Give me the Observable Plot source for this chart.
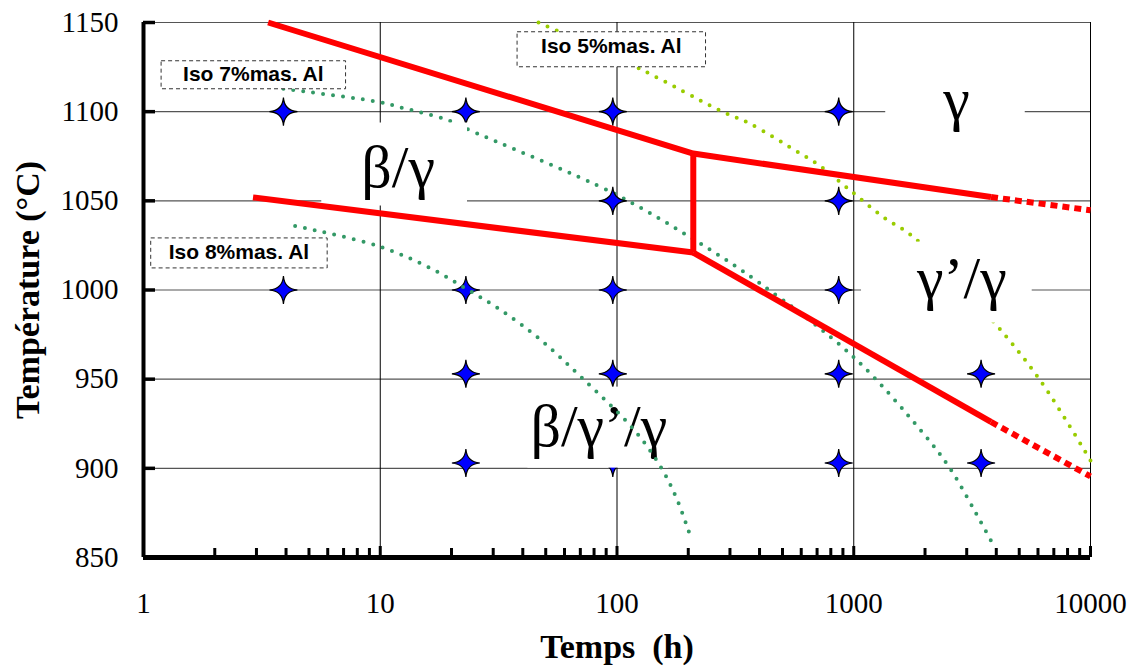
<!DOCTYPE html>
<html><head><meta charset="utf-8">
<script src="https://cdn.jsdelivr.net/npm/d3@7"></script>
<script src="https://cdn.jsdelivr.net/npm/@observablehq/plot@0.6"></script>
<style>
html,body{margin:0;padding:0;background:#fff;}
#chart svg{display:block;}
</style>
</head><body><div id="chart"></div>
<script>
// ---------- data ----------
const xTickValues = [1, 10, 100, 1000, 10000];
const xDecadeTicks = [10, 100, 1000, 10000];
const xMinorTicks = [2,3,4,5,6,7,8,9, 20,30,40,50,60,70,80,90, 200,300,400,500,600,700,800,900, 2000,3000,4000,5000,6000,7000,8000,9000];
const yTickValues = [850, 900, 950, 1000, 1050, 1100, 1150];
const yGridValues = [900, 950, 1000, 1050, 1100, 1150];

// experimental points (time h, temperature °C)
const starTime = [3.9, 3.9, 23, 23, 23, 23, 96, 96, 96, 96, 96, 864, 864, 864, 864, 864, 3450, 3450];
const starTemp = [1100, 1000, 1100, 1000, 953, 903, 1100, 1050, 1000, 953, 903, 1100, 1050, 1000, 953, 903, 953, 903];

// phase boundaries (red)
const upperTime = [3.36, 210, 3800];
const upperTemp = [1150, 1076.5, 1052.1];
const upperExtTime = [3800, 10000];
const upperExtTemp = [1052.1, 1044.7];
const middleTime = [2.9, 210];
const middleTemp = [1051.9, 1021.0];
const verticalTime = [210, 210];
const verticalTemp = [1076.5, 1021.0];
const lowerTime = [210, 3800];
const lowerTemp = [1021.0, 926.0];
const lowerExtTime = [3800, 10000];
const lowerExtTemp = [926.0, 895.5];

// iso-concentration curves (dotted)
const iso7Time = [3.9, 10, 12.1, 19.1, 24, 96.5, 210, 403, 1000, 1974, 2557, 3540, 3900];
const iso7Temp = [1112.8, 1105.3, 1102.5, 1095.5, 1089.5, 1054.3, 1028.5, 1003.6, 962.3, 919.3, 899.7, 866.9, 856.7];
const iso8Time = [4.37, 10, 16.8, 23.2, 32.1, 47.4, 72.3, 117.5, 152, 179, 207];
const iso8Temp = [1035.9, 1024.3, 1011.3, 1000.5, 989, 972.2, 949.8, 921.9, 901.4, 882.8, 859.5];
const iso5Time = [46.6, 125, 273, 365, 596, 700, 968, 1337, 1791, 3963, 6140, 10000];
const iso5Temp = [1150, 1124.0, 1100.6, 1093.2, 1076.4, 1070.8, 1055.8, 1040.8, 1029.6, 981.0, 949.2, 904.4];

// labels
const phaseLabels = ["β/γ", "γ", "γ’/γ", "β/γ’/γ"];
const phaseTime = [11.9, 2716, 2862, 83.8];
const phaseTemp = [1068.8, 1106.4, 1006.5, 923.5];
const isoLabels = ["Iso 7%mas. Al", "Iso 8%mas. Al", "Iso 5%mas. Al"];
const isoTime = [2.91, 2.53, 94.6];
const isoTemp = [1121.1, 1021.2, 1136.8];
const xTitle = "Temps\u00a0\u00a0(h)";
const yTitle = "Température (°C)";

// ---------- helpers ----------
const zip = (xs, ys) => xs.map((x, i) => ({x, y: ys[i]}));
const W = 1137, H = 666, ML = 143, MR = 47, MT = 22, MB = 109;
const frameW = W - ML - MR, frameH = H - MT - MB;
const serif = "'Liberation Serif', 'Times New Roman', serif";
const sans = "'Liberation Sans', Arial, sans-serif";

// four-pointed sparkle star
const star4 = {
  draw(context, size) {
    const r = Math.sqrt(size / Math.PI);
    const k = r * 0.07;
    context.moveTo(0, -r);
    context.quadraticCurveTo(k, -k, r, 0);
    context.quadraticCurveTo(k, k, 0, r);
    context.quadraticCurveTo(-k, k, -r, 0);
    context.quadraticCurveTo(-k, -k, 0, -r);
    context.closePath();
  }
};

const red = "#ff0000", darkGreen = "#339966", lightGreen = "#99cc00";
const solidRed = {x: "x", y: "y", stroke: red, strokeWidth: 6, strokeLinejoin: "miter", strokeLinecap: "butt"};
const dashRed = {x: "x", y: "y", stroke: red, strokeWidth: 6, strokeDasharray: "7 5", strokeLinecap: "butt"};
const dots = (c) => ({x: "x", y: "y", stroke: c, strokeWidth: 4, strokeDasharray: "0 10", strokeLinecap: "round", curve: "catmull-rom"});

const chart = Plot.plot({
  width: W, height: H,
  marginLeft: ML, marginRight: MR, marginTop: MT, marginBottom: MB,
  x: {type: "log", domain: [1, 10000]},
  y: {domain: [850, 1150]},
  style: {fontFamily: serif, background: "white", color: "black"},
  marks: [
    Plot.gridY(yGridValues, {stroke: "#555", strokeOpacity: 1, strokeWidth: 1.2}),
    Plot.gridX(xDecadeTicks, {stroke: "#000", strokeOpacity: 1, strokeWidth: 1}),
    Plot.line(zip(iso5Time, iso5Temp), dots(lightGreen)),
    Plot.line(zip(iso7Time, iso7Temp), dots(darkGreen)),
    Plot.dot(zip(starTime, starTemp), {x: "x", y: "y", symbol: star4, r: 14, fill: "#0000ff", stroke: "#000", strokeWidth: 1.2}),
    Plot.text(phaseLabels.map((t, i) => ({t, x: phaseTime[i], y: phaseTemp[i]})),
      {x: "x", y: "y", text: "t", fontSize: 60, fontFamily: serif, fill: "black"}),
    Plot.line(zip(iso8Time, iso8Temp), dots(darkGreen)),
    Plot.line(zip(upperTime, upperTemp), solidRed),
    Plot.line(zip(upperExtTime, upperExtTemp), dashRed),
    Plot.line(zip(middleTime, middleTemp), solidRed),
    Plot.line(zip(verticalTime, verticalTemp), solidRed),
    Plot.line(zip(lowerTime, lowerTemp), solidRed),
    Plot.line(zip(lowerExtTime, lowerExtTemp), dashRed),
    Plot.text(isoLabels.map((t, i) => ({t, x: isoTime[i], y: isoTemp[i]})),
      {x: "x", y: "y", text: "t", fontSize: 21, fontWeight: "bold", fontFamily: sans, fill: "black"}),
    // axes
    Plot.ruleX([1], {stroke: "black", strokeWidth: 4}),
    Plot.ruleY([850], {stroke: "black", strokeWidth: 5}),
    Plot.tickY(yTickValues, {y: d => d, stroke: "black", strokeWidth: 3.5, insetRight: frameW - 12}),
    Plot.tickX(xMinorTicks, {x: d => d, stroke: "black", strokeWidth: 3, insetTop: frameH - 9}),
    Plot.tickX(xDecadeTicks, {x: d => d, stroke: "black", strokeWidth: 3, insetTop: frameH - 11}),
    Plot.axisY(yTickValues, {tickSize: 0, tickPadding: 25, fontSize: 29, fontFamily: serif, label: null, tickFormat: d => String(d)}),
    Plot.axisX(xTickValues, {tickSize: 0, tickPadding: 35, fontSize: 29, fontFamily: serif, label: null, tickFormat: d => String(d)}),
    Plot.text([yTitle], {frameAnchor: "left", dx: -115, rotate: -90, textAnchor: "middle", lineAnchor: "middle",
      fontSize: 34, fontWeight: "bold", fontFamily: serif, fill: "black", style: "letter-spacing:1px"}),
    Plot.text([xTitle], {frameAnchor: "bottom", dy: 90, textAnchor: "middle", lineAnchor: "middle",
      fontSize: 34, fontWeight: "bold", fontFamily: serif, fill: "black"})
  ]
});

document.getElementById("chart").append(chart);

// white boxes behind phase labels, dashed boxes behind iso labels
const svgRect = chart.getBoundingClientRect();
const SVGNS = "http://www.w3.org/2000/svg";
const phasePad = {"β/γ": [40, 32, 11, 6], "γ": [57, 55, 0, 0], "γ’/γ": [55, 25, 3, 12], "β/γ’/γ": [3, 1, 6, 9]};
const isoPad = {"Iso 7%mas. Al": [22, 22, 1, 4], "Iso 8%mas. Al": [18, 18, 2, 5], "Iso 5%mas. Al": [24, 24, 2, 10]};
function addBoxes(labels, pads, style) {
  const texts = Array.from(chart.querySelectorAll("text")).filter(t => labels.includes(t.textContent));
  if (!texts.length) return;
  const parent = texts[0].parentNode;
  const boxes = document.createElementNS(SVGNS, "g");
  texts.forEach(t => {
    const b = t.getBoundingClientRect();
    const [l, r, tp, bt] = pads[t.textContent] || [0, 0, 0, 0];
    const rect = document.createElementNS(SVGNS, "rect");
    rect.setAttribute("x", b.left - svgRect.left - l);
    rect.setAttribute("y", b.top - svgRect.top - tp);
    rect.setAttribute("width", b.width + l + r);
    rect.setAttribute("height", b.height + tp + bt);
    for (const k in style) rect.setAttribute(k, style[k]);
    boxes.append(rect);
  });
  parent.parentNode.insertBefore(boxes, parent);
}
addBoxes(phaseLabels, phasePad, {fill: "white"});
addBoxes(isoLabels, isoPad, {fill: "white", stroke: "#333", "stroke-width": 1, "stroke-dasharray": "4 3"});
</script>
</body></html>
